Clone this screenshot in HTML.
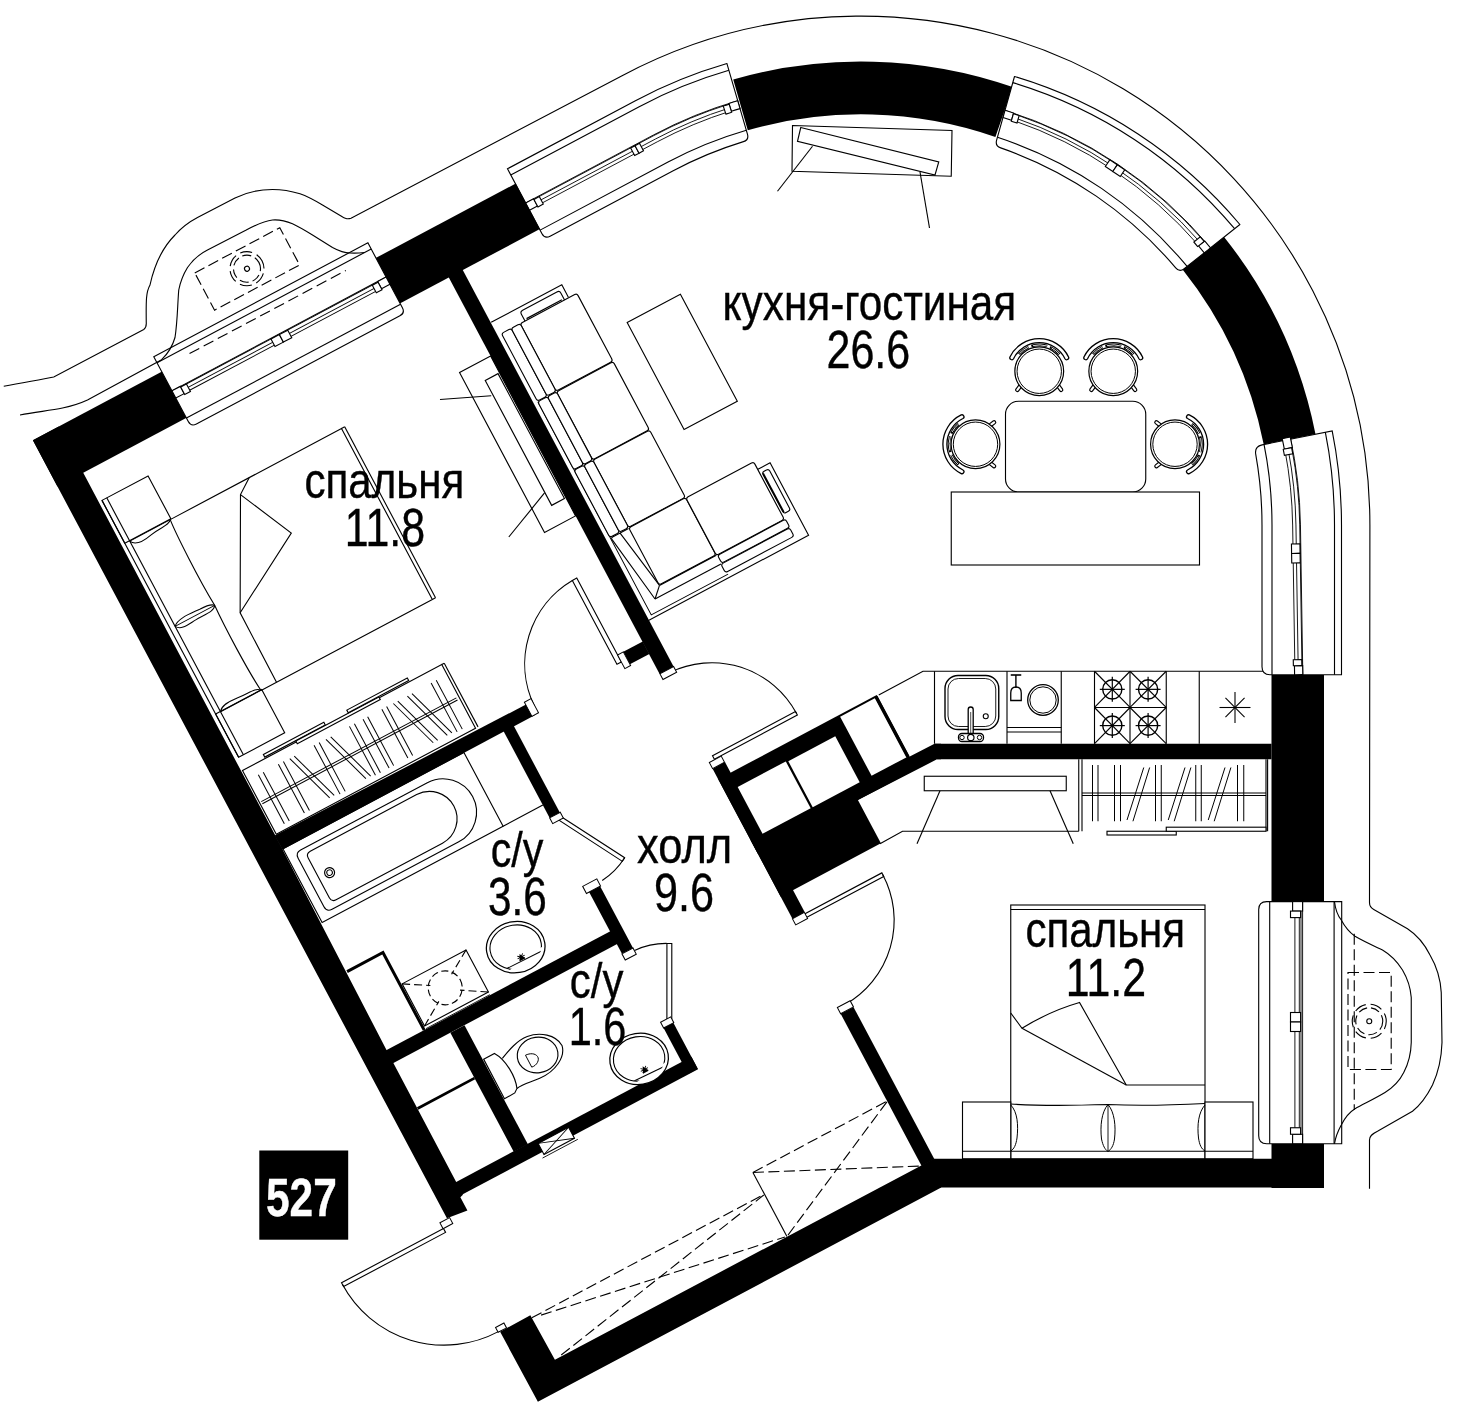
<!DOCTYPE html>
<html><head><meta charset="utf-8"><title>plan</title>
<style>html,body{margin:0;padding:0;background:#fff}svg{display:block}text{font-family:"Liberation Sans",sans-serif}</style>
</head><body>
<svg width="1460" height="1414" viewBox="0 0 1460 1414">
<rect x="0" y="0" width="1460" height="1414" fill="#fff"/>
<path d="M3.75,386.25 C25,382 40,380 53.75,377 L143.75,329.5 C146,328 146.5,326 146.25,322.5 C146,300 146,292 150,285 C155,262 164,246 175,235 C182,227 189,222 197.5,217.5 L235,198 C247,192 259,189.5 272.5,189.5 C282,189.5 291,191 300,193.75 C308,196.5 315,200.5 322.5,205 L341,216 C345,218.5 347,219.5 351,218.3 L622.09,75.67 A508.9,508.9 0 0 1 1369.90,525.00 L1369.5,902.5 C1369.5,906 1371,908 1373.75,909.5 L1407.5,928.75 C1417,935 1424.5,944 1430,955 C1437,967 1440.5,979 1441.25,992.5 L1442,1042.5 C1441.5,1058 1438.5,1072 1432.5,1085 C1427.5,1095 1421,1104.5 1412.5,1111.25 L1377.5,1131.25 C1372,1134 1369.5,1136 1369.5,1140 L1369.5,1188.75" fill="none" stroke="#000" stroke-width="1.12" />
<path d="M733.24,79.46 A463.50,463.50 0 0 1 1012.67,87.02 L995.39,136.91 A410.70,410.70 0 0 0 747.80,130.21 Z" fill="#000" stroke="none" stroke-width="1.12" />
<path d="M1223.49,236.15 A463.50,463.50 0 0 1 1315.51,434.18 L1263.74,444.52 A410.70,410.70 0 0 0 1182.19,269.05 Z" fill="#000" stroke="none" stroke-width="1.12" />
<rect x="1271.50" y="675.00" width="52.50" height="226.50" rx="0.00" fill="#000" stroke="none" stroke-width="1.12" />
<rect x="1271.50" y="1143.75" width="52.50" height="44.25" rx="0.00" fill="#000" stroke="none" stroke-width="1.12" />
<rect x="933.75" y="1158.75" width="390.25" height="28.75" rx="0.00" fill="#000" stroke="none" stroke-width="1.12" />
<polygon points="934.50,743.75 1271.50,743.75 1271.50,759.25 937.00,759.25" fill="#000" stroke="none" stroke-width="1.12" />
<line x1="1302.60" y1="675.00" x2="1302.60" y2="740.00" stroke="#000" stroke-width="0.6" stroke="#fff"/>
<path d="M1014.50,76.50 A470.0,470.0 0 0 1 1239.90,224.50 L1184.20,268.77 Q1179.50,272.50 1175.70,267.85 A402.0,402.0 0 0 0 1000.70,147.87 Q995.00,146.00 996.62,140.22 Z" fill="#fff" stroke="#000" stroke-width="1.12" stroke-linejoin="round"/>
<path d="M997.45,137.26 A410.6,410.6 0 0 1 1187.10,266.46" fill="none" stroke="#000" stroke-width="1.12" />
<path d="M1012.78,82.62 A464.0,464.0 0 0 1 1234.58,228.73" fill="none" stroke="#000" stroke-width="1.12" />
<path d="M1012.63,120.18 A430.2,430.2 0 0 1 1198.17,244.89" fill="none" stroke="#000" stroke-width="0.9" />
<path d="M1013.44,117.28 A433.0,433.0 0 0 1 1200.67,242.90" fill="none" stroke="#000" stroke-width="0.9" />
<path d="M1014.37,113.95 A436.3,436.3 0 0 1 1203.55,240.62" fill="none" stroke="#000" stroke-width="0.9" />
<path d="M1005.01,110.33 A436.9,436.9 0 0 1 1210.50,247.87" fill="none" stroke="#000" stroke-width="0.9" />
<polygon points="1003.00,117.50 1011.57,120.22 1013.59,113.04 1005.01,110.33" fill="#fff" stroke="#000" stroke-width="1.12" />
<polygon points="1011.30,121.20 1017.02,123.01 1019.12,115.54 1013.39,113.74" fill="#fff" stroke="#000" stroke-width="1.12" />
<polygon points="1204.27,252.82 1198.51,245.90 1204.72,240.96 1210.50,247.87" fill="#fff" stroke="#000" stroke-width="1.12" />
<polygon points="1197.67,246.57 1193.83,241.96 1200.27,236.84 1204.12,241.44" fill="#fff" stroke="#000" stroke-width="1.12" />
<polygon points="1105.32,166.52 1112.79,171.54 1117.26,164.88 1109.80,159.86" fill="#fff" stroke="#000" stroke-width="1.12" />
<polygon points="1112.79,171.54 1120.26,176.56 1124.73,169.91 1117.26,164.88" fill="#fff" stroke="#000" stroke-width="1.12" />
<path d="M507.48,168.77 L635.42,100.74 A480.50,480.50 0 0 1 726.94,63.58 L747.45,134.16 Q749.12,139.92 743.42,141.62 A401.00,401.00 0 0 0 672.74,170.94 L550.10,236.15 Q544.80,238.96 541.99,233.67 Z" fill="#fff" stroke="#000" stroke-width="1.12" />
<path d="M540.11,230.13 L668.05,162.11 A411.00,411.00 0 0 1 746.33,130.32" fill="none" stroke="#000" stroke-width="1.12" />
<path d="M510.77,174.95 L638.71,106.92 A473.50,473.50 0 0 1 728.90,70.30" fill="none" stroke="#000" stroke-width="1.12" />
<path d="M538.14,205.13 L657.25,141.80 A434.00,434.00 0 0 1 730.49,111.09" fill="none" stroke="#000" stroke-width="0.9" />
<path d="M536.59,202.22 L655.70,138.89 A437.30,437.30 0 0 1 729.50,107.94" fill="none" stroke="#000" stroke-width="0.9" />
<path d="M534.81,198.86 L653.92,135.53 A441.10,441.10 0 0 1 728.36,104.32" fill="none" stroke="#000" stroke-width="0.9" />
<path d="M525.65,202.94 L653.59,134.91 A441.80,441.80 0 0 1 737.74,100.74" fill="none" stroke="#000" stroke-width="0.9" />
<polygon points="529.50,210.18 537.44,205.96 533.59,198.71 525.65,202.94" fill="#fff" stroke="#000" stroke-width="1.12" />
<polygon points="537.96,206.93 543.26,204.11 539.27,196.60 533.97,199.42" fill="#fff" stroke="#000" stroke-width="1.12" />
<path d="M728.88,103.42 A441.80,441.80 0 0 1 737.74,100.74 L740.03,108.62 A433.60,433.60 0 0 0 731.34,111.24 Z" fill="#fff" stroke="#000" stroke-width="1.12" />
<path d="M723.26,106.06 A441.00,441.00 0 0 1 729.12,104.18 L731.66,112.29 A432.50,432.50 0 0 0 725.92,114.14 Z" fill="#fff" stroke="#000" stroke-width="1.12" />
<polygon points="634.64,155.52 639.06,153.17 635.07,145.67 630.65,148.01" fill="#fff" stroke="#000" stroke-width="1.12" />
<polygon points="639.06,153.17 643.47,150.82 639.48,143.32 635.07,145.67" fill="#fff" stroke="#000" stroke-width="1.12" />
<path d="M1332.19,430.85 A480.50,480.50 0 0 1 1341.50,525.00 L1341.50,674.75 L1270.00,674.75 Q1262.00,674.75 1262.00,666.75 L1262.00,525.00 A401.00,401.00 0 0 0 1255.79,454.68 Q1254.23,446.43 1262.07,444.86 Z" fill="#fff" stroke="#000" stroke-width="1.12" />
<path d="M1264.03,444.47 A411.00,411.00 0 0 1 1272.00,525.00 L1272.00,674.75" fill="none" stroke="#000" stroke-width="1.12" />
<path d="M1325.32,432.22 A473.50,473.50 0 0 1 1334.50,525.00 L1334.50,674.75" fill="none" stroke="#000" stroke-width="1.12" />
<g transform="rotate(-0.9 1296 674.75)">
<path d="M1288.41,449.64 A434.00,434.00 0 0 1 1295.00,525.00 L1295.00,664.75" fill="none" stroke="#000" stroke-width="0.9" />
<path d="M1291.66,449.06 A437.30,437.30 0 0 1 1298.30,525.00 L1298.30,664.75" fill="none" stroke="#000" stroke-width="0.9" />
<path d="M1295.40,448.40 A441.10,441.10 0 0 1 1302.10,525.00 L1302.10,664.75" fill="none" stroke="#000" stroke-width="0.9" />
<path d="M1293.78,436.16 A441.80,441.80 0 0 1 1302.80,525.00 L1302.80,674.75" fill="none" stroke="#000" stroke-width="0.9" />
<path d="M1293.93,436.92 A441.80,441.80 0 0 1 1295.95,447.52 L1287.88,448.96 A433.60,433.60 0 0 0 1285.90,438.55 Z" fill="#fff" stroke="#000" stroke-width="1.12" />
<path d="M1295.17,447.66 A441.00,441.00 0 0 1 1296.20,453.73 L1287.82,455.11 A432.50,432.50 0 0 0 1286.80,449.15 Z" fill="#fff" stroke="#000" stroke-width="1.12" />
<rect x="1294.60" y="665.75" width="8.20" height="9.00" rx="0.00" fill="#fff" stroke="#000" stroke-width="1.12" />
<rect x="1293.50" y="659.75" width="8.50" height="6.00" rx="0.00" fill="#fff" stroke="#000" stroke-width="1.12" />
<rect x="1293.50" y="544.00" width="8.50" height="9.50" rx="0.00" fill="#fff" stroke="#000" stroke-width="1.12" />
<rect x="1293.50" y="553.50" width="8.50" height="9.50" rx="0.00" fill="#fff" stroke="#000" stroke-width="1.12" />
</g>
<path d="M1266.70,901.60 L1341.70,901.60 L1341.70,1143.75 L1266.70,1143.75 Q1258.70,1143.75 1258.70,1135.75 L1258.70,909.60 Q1258.70,901.60 1266.70,901.60 Z" fill="#fff" stroke="#000" stroke-width="1.12" />
<line x1="1269.70" y1="901.60" x2="1269.70" y2="1143.75" stroke="#000" stroke-width="1.12" />
<line x1="1334.10" y1="901.60" x2="1334.10" y2="1143.75" stroke="#000" stroke-width="1.12" />
<line x1="1294.90" y1="911.60" x2="1294.90" y2="1133.75" stroke="#000" stroke-width="0.9" />
<line x1="1299.30" y1="911.60" x2="1299.30" y2="1133.75" stroke="#000" stroke-width="0.9" />
<line x1="1301.00" y1="911.60" x2="1301.00" y2="1133.75" stroke="#000" stroke-width="0.9" />
<line x1="1302.60" y1="901.60" x2="1302.60" y2="1143.75" stroke="#000" stroke-width="0.9" />
<rect x="1292.60" y="901.60" width="10.00" height="9.50" rx="0.00" fill="#fff" stroke="#000" stroke-width="1.12" />
<rect x="1290.50" y="911.10" width="10.10" height="6.50" rx="0.00" fill="#fff" stroke="#000" stroke-width="1.12" />
<rect x="1292.60" y="1134.25" width="10.00" height="9.50" rx="0.00" fill="#fff" stroke="#000" stroke-width="1.12" />
<rect x="1290.50" y="1127.75" width="10.10" height="6.50" rx="0.00" fill="#fff" stroke="#000" stroke-width="1.12" />
<rect x="1290.50" y="1012.50" width="10.10" height="9.50" rx="0.00" fill="#fff" stroke="#000" stroke-width="1.12" />
<rect x="1290.50" y="1022.00" width="10.10" height="9.50" rx="0.00" fill="#fff" stroke="#000" stroke-width="1.12" />
<path d="M1334.5,901.75 C1335.5,910 1338,916 1341.25,920 C1345,927 1349,932 1355,936.25 C1364,941.5 1373,945.5 1382.5,950 C1391,955 1397.5,962 1402.5,970 C1407.5,978.5 1410.5,987 1411.25,997.5 L1411.25,1042.5 C1411,1053.5 1408.5,1063.5 1403.75,1072.5 C1399.5,1081 1393,1087.5 1385,1092.5 C1375,1098.5 1364.5,1103.5 1355,1108.75 C1349,1112.5 1344.5,1118.5 1341.25,1125 C1338,1131 1335.5,1137 1334.5,1143.75" fill="none" stroke="#000" stroke-width="1.12" />
<rect x="1348.00" y="972.50" width="43.20" height="97.00" rx="0.00" fill="none" stroke="#000" stroke-width="1.12" stroke-dasharray="11 4.5"/>
<line x1="1354.25" y1="933.75" x2="1354.25" y2="1110.00" stroke="#000" stroke-width="1.12" stroke-dasharray="11 4.5"/>
<circle cx="1369.25" cy="1021.25" r="2.50" fill="none" stroke="#000" stroke-width="1.12" />
<circle cx="1369.25" cy="1021.25" r="13.50" fill="none" stroke="#000" stroke-width="1.12" stroke-dasharray="9 4"/>
<circle cx="1369.25" cy="1021.25" r="17.00" fill="none" stroke="#000" stroke-width="1.12" stroke-dasharray="12 5" stroke-dashoffset="4"/>
<rect x="1005.50" y="401.25" width="140.25" height="90.75" rx="13.00" fill="#fff" stroke="#000" stroke-width="1.12" />
<rect x="951.25" y="492.00" width="248.25" height="73.00" rx="0.00" fill="#fff" stroke="#000" stroke-width="1.12" />
<g transform="translate(1039.25,371.25) rotate(0)">
<path d="M-19.3,15.2 L-21.9,18.6" stroke="#000" stroke-width="4.4" stroke-linecap="round" fill="none"/>
<path d="M-19.3,15.2 L-21.9,18.6" stroke="#fff" stroke-width="2.1" stroke-linecap="round" fill="none"/>
<path d="M19.3,15.2 L21.9,18.6" stroke="#000" stroke-width="4.4" stroke-linecap="round" fill="none"/>
<path d="M19.3,15.2 L21.9,18.6" stroke="#fff" stroke-width="2.1" stroke-linecap="round" fill="none"/>
<circle cx="0.00" cy="0.00" r="24.40" fill="#fff" stroke="#000" stroke-width="1.2" />
<circle cx="0.00" cy="0.00" r="22.20" fill="none" stroke="#000" stroke-width="1.0" />
<path d="M-29.30,-14.29 A32.6,32.6 0 0 1 29.30,-14.29 A2,2 0 0 1 25.71,-12.54 A28.6,28.6 0 0 0 -25.71,-12.54 A2,2 0 0 1 -29.30,-14.29 Z" fill="#fff" stroke="#000" stroke-width="1.3"/>
<path d="M-20.22,-16.97 A26.4,26.4 0 0 1 20.22,-16.97" fill="none" stroke="#000" stroke-width="2.6" stroke-dasharray="12 3 16 3 12 100"/>
<path d="M-20.22,-16.97 A26.4,26.4 0 0 1 20.22,-16.97" fill="none" stroke="#fff" stroke-width="0.9" stroke-dasharray="11 5 14 5 11 100" stroke-dashoffset="-0.8"/>
</g>
<g transform="translate(1113.25,371.25) rotate(0)">
<path d="M-19.3,15.2 L-21.9,18.6" stroke="#000" stroke-width="4.4" stroke-linecap="round" fill="none"/>
<path d="M-19.3,15.2 L-21.9,18.6" stroke="#fff" stroke-width="2.1" stroke-linecap="round" fill="none"/>
<path d="M19.3,15.2 L21.9,18.6" stroke="#000" stroke-width="4.4" stroke-linecap="round" fill="none"/>
<path d="M19.3,15.2 L21.9,18.6" stroke="#fff" stroke-width="2.1" stroke-linecap="round" fill="none"/>
<circle cx="0.00" cy="0.00" r="24.40" fill="#fff" stroke="#000" stroke-width="1.2" />
<circle cx="0.00" cy="0.00" r="22.20" fill="none" stroke="#000" stroke-width="1.0" />
<path d="M-29.30,-14.29 A32.6,32.6 0 0 1 29.30,-14.29 A2,2 0 0 1 25.71,-12.54 A28.6,28.6 0 0 0 -25.71,-12.54 A2,2 0 0 1 -29.30,-14.29 Z" fill="#fff" stroke="#000" stroke-width="1.3"/>
<path d="M-20.22,-16.97 A26.4,26.4 0 0 1 20.22,-16.97" fill="none" stroke="#000" stroke-width="2.6" stroke-dasharray="12 3 16 3 12 100"/>
<path d="M-20.22,-16.97 A26.4,26.4 0 0 1 20.22,-16.97" fill="none" stroke="#fff" stroke-width="0.9" stroke-dasharray="11 5 14 5 11 100" stroke-dashoffset="-0.8"/>
</g>
<g transform="translate(975.50,444.25) rotate(-90)">
<path d="M-19.3,15.2 L-21.9,18.6" stroke="#000" stroke-width="4.4" stroke-linecap="round" fill="none"/>
<path d="M-19.3,15.2 L-21.9,18.6" stroke="#fff" stroke-width="2.1" stroke-linecap="round" fill="none"/>
<path d="M19.3,15.2 L21.9,18.6" stroke="#000" stroke-width="4.4" stroke-linecap="round" fill="none"/>
<path d="M19.3,15.2 L21.9,18.6" stroke="#fff" stroke-width="2.1" stroke-linecap="round" fill="none"/>
<circle cx="0.00" cy="0.00" r="24.40" fill="#fff" stroke="#000" stroke-width="1.2" />
<circle cx="0.00" cy="0.00" r="22.20" fill="none" stroke="#000" stroke-width="1.0" />
<path d="M-29.30,-14.29 A32.6,32.6 0 0 1 29.30,-14.29 A2,2 0 0 1 25.71,-12.54 A28.6,28.6 0 0 0 -25.71,-12.54 A2,2 0 0 1 -29.30,-14.29 Z" fill="#fff" stroke="#000" stroke-width="1.3"/>
<path d="M-20.22,-16.97 A26.4,26.4 0 0 1 20.22,-16.97" fill="none" stroke="#000" stroke-width="2.6" stroke-dasharray="12 3 16 3 12 100"/>
<path d="M-20.22,-16.97 A26.4,26.4 0 0 1 20.22,-16.97" fill="none" stroke="#fff" stroke-width="0.9" stroke-dasharray="11 5 14 5 11 100" stroke-dashoffset="-0.8"/>
</g>
<g transform="translate(1175.00,444.25) rotate(90)">
<path d="M-19.3,15.2 L-21.9,18.6" stroke="#000" stroke-width="4.4" stroke-linecap="round" fill="none"/>
<path d="M-19.3,15.2 L-21.9,18.6" stroke="#fff" stroke-width="2.1" stroke-linecap="round" fill="none"/>
<path d="M19.3,15.2 L21.9,18.6" stroke="#000" stroke-width="4.4" stroke-linecap="round" fill="none"/>
<path d="M19.3,15.2 L21.9,18.6" stroke="#fff" stroke-width="2.1" stroke-linecap="round" fill="none"/>
<circle cx="0.00" cy="0.00" r="24.40" fill="#fff" stroke="#000" stroke-width="1.2" />
<circle cx="0.00" cy="0.00" r="22.20" fill="none" stroke="#000" stroke-width="1.0" />
<path d="M-29.30,-14.29 A32.6,32.6 0 0 1 29.30,-14.29 A2,2 0 0 1 25.71,-12.54 A28.6,28.6 0 0 0 -25.71,-12.54 A2,2 0 0 1 -29.30,-14.29 Z" fill="#fff" stroke="#000" stroke-width="1.3"/>
<path d="M-20.22,-16.97 A26.4,26.4 0 0 1 20.22,-16.97" fill="none" stroke="#000" stroke-width="2.6" stroke-dasharray="12 3 16 3 12 100"/>
<path d="M-20.22,-16.97 A26.4,26.4 0 0 1 20.22,-16.97" fill="none" stroke="#fff" stroke-width="0.9" stroke-dasharray="11 5 14 5 11 100" stroke-dashoffset="-0.8"/>
</g>
<polygon points="792.50,125.50 952.00,130.50 951.25,176.25 792.00,171.25" fill="none" stroke="#000" stroke-width="1.12" />
<polygon points="800.75,127.50 938.75,162.00 935.00,175.00 797.50,141.25" fill="#fff" stroke="#000" stroke-width="1.12" />
<line x1="812.50" y1="146.25" x2="777.50" y2="191.25" stroke="#000" stroke-width="1.12" />
<line x1="920.00" y1="172.00" x2="929.50" y2="228.00" stroke="#000" stroke-width="1.12" />
<path d="M878.75,695.00 L923.00,671.25 L1263.00,671.25" fill="none" stroke="#000" stroke-width="1.12" />
<line x1="934.50" y1="671.25" x2="934.50" y2="743.75" stroke="#000" stroke-width="1.12" />
<line x1="1007.00" y1="671.25" x2="1007.00" y2="743.75" stroke="#000" stroke-width="1.12" />
<line x1="1061.25" y1="671.25" x2="1061.25" y2="743.75" stroke="#000" stroke-width="1.12" />
<line x1="1094.50" y1="671.25" x2="1094.50" y2="743.75" stroke="#000" stroke-width="1.12" />
<line x1="1130.00" y1="671.25" x2="1130.00" y2="743.75" stroke="#000" stroke-width="1.12" />
<line x1="1166.25" y1="671.25" x2="1166.25" y2="743.75" stroke="#000" stroke-width="1.12" />
<line x1="1199.25" y1="671.25" x2="1199.25" y2="743.75" stroke="#000" stroke-width="1.12" />
<rect x="945.00" y="675.50" width="53.75" height="54.00" rx="13.00" fill="#fff" stroke="#000" stroke-width="1.4" />
<rect x="948.00" y="678.50" width="47.75" height="48.00" rx="10.50" fill="#fff" stroke="#000" stroke-width="0.9" />
<circle cx="985.75" cy="716.25" r="2.50" fill="none" stroke="#000" stroke-width="1.12" />
<path d="M968.2,737 L968.2,709.5 A2.5,2.5 0 0 1 973.2,709.5 L973.2,737 Z" fill="#fff" stroke="#000" stroke-width="1.3" />
<line x1="970.70" y1="712.00" x2="970.70" y2="735.00" stroke="#000" stroke-width="0.7" />
<rect x="958.50" y="733.50" width="25.00" height="8.00" rx="3.50" fill="#fff" stroke="#000" stroke-width="1.3" />
<circle cx="970.80" cy="737.50" r="3.20" fill="#fff" stroke="#000" stroke-width="1.2" />
<circle cx="962.00" cy="737.50" r="2.20" fill="none" stroke="#000" stroke-width="1" />
<circle cx="979.50" cy="737.50" r="2.20" fill="none" stroke="#000" stroke-width="1" />
<line x1="1010.75" y1="675.00" x2="1021.25" y2="675.00" stroke="#000" stroke-width="1.6" />
<line x1="1015.90" y1="675.00" x2="1015.90" y2="688.00" stroke="#000" stroke-width="1.4" />
<path d="M1010.75,700.5 L1010.75,693 Q1010.75,687 1016,687 Q1021.25,687 1021.25,693 L1021.25,700.5 Z" fill="none" stroke="#000" stroke-width="1.3" />
<circle cx="1043.00" cy="700.00" r="15.30" fill="none" stroke="#000" stroke-width="1.3" />
<circle cx="1043.00" cy="700.00" r="13.20" fill="none" stroke="#000" stroke-width="1" />
<line x1="1007.00" y1="727.50" x2="1061.25" y2="727.50" stroke="#000" stroke-width="1.12" />
<line x1="1007.00" y1="732.00" x2="1061.25" y2="732.00" stroke="#000" stroke-width="1.12" />
<line x1="1094.50" y1="707.50" x2="1166.25" y2="707.50" stroke="#000" stroke-width="1.12" />
<line x1="1094.50" y1="671.25" x2="1130.10" y2="707.45" stroke="#000" stroke-width="1.12" />
<line x1="1094.50" y1="707.45" x2="1130.10" y2="671.25" stroke="#000" stroke-width="1.12" />
<circle cx="1112.30" cy="689.35" r="9.60" fill="none" stroke="#000" stroke-width="1.4" />
<line x1="1099.80" y1="689.35" x2="1124.80" y2="689.35" stroke="#000" stroke-width="1.2" />
<line x1="1112.30" y1="676.85" x2="1112.30" y2="701.85" stroke="#000" stroke-width="1.2" />
<line x1="1130.00" y1="671.25" x2="1166.20" y2="707.45" stroke="#000" stroke-width="1.12" />
<line x1="1130.00" y1="707.45" x2="1166.20" y2="671.25" stroke="#000" stroke-width="1.12" />
<circle cx="1148.10" cy="689.35" r="9.60" fill="none" stroke="#000" stroke-width="1.4" />
<line x1="1135.60" y1="689.35" x2="1160.60" y2="689.35" stroke="#000" stroke-width="1.2" />
<line x1="1148.10" y1="676.85" x2="1148.10" y2="701.85" stroke="#000" stroke-width="1.2" />
<line x1="1094.50" y1="707.50" x2="1130.10" y2="743.70" stroke="#000" stroke-width="1.12" />
<line x1="1094.50" y1="743.70" x2="1130.10" y2="707.50" stroke="#000" stroke-width="1.12" />
<circle cx="1112.30" cy="725.60" r="9.60" fill="none" stroke="#000" stroke-width="1.4" />
<line x1="1099.80" y1="725.60" x2="1124.80" y2="725.60" stroke="#000" stroke-width="1.2" />
<line x1="1112.30" y1="713.10" x2="1112.30" y2="738.10" stroke="#000" stroke-width="1.2" />
<line x1="1130.00" y1="707.50" x2="1166.20" y2="743.70" stroke="#000" stroke-width="1.12" />
<line x1="1130.00" y1="743.70" x2="1166.20" y2="707.50" stroke="#000" stroke-width="1.12" />
<circle cx="1148.10" cy="725.60" r="9.60" fill="none" stroke="#000" stroke-width="1.4" />
<line x1="1135.60" y1="725.60" x2="1160.60" y2="725.60" stroke="#000" stroke-width="1.2" />
<line x1="1148.10" y1="713.10" x2="1148.10" y2="738.10" stroke="#000" stroke-width="1.2" />
<line x1="1219.50" y1="707.50" x2="1250.50" y2="707.50" stroke="#000" stroke-width="1.1" />
<line x1="1225.45" y1="697.95" x2="1244.55" y2="717.05" stroke="#000" stroke-width="1.1" />
<line x1="1235.00" y1="692.00" x2="1235.00" y2="723.00" stroke="#000" stroke-width="1.1" />
<line x1="1244.55" y1="697.95" x2="1225.45" y2="717.05" stroke="#000" stroke-width="1.1" />
<rect x="924.25" y="776.25" width="142.00" height="14.50" rx="0.00" fill="#fff" stroke="#000" stroke-width="1.12" />
<line x1="940.00" y1="790.75" x2="917.00" y2="843.75" stroke="#000" stroke-width="1.12" />
<line x1="1050.00" y1="790.75" x2="1073.25" y2="843.75" stroke="#000" stroke-width="1.12" />
<path d="M1078.75,831.25 L1078.75,759.25" fill="none" stroke="#000" stroke-width="1.12" />
<line x1="1082.00" y1="759.25" x2="1082.00" y2="831.25" stroke="#000" stroke-width="1.12" />
<line x1="1266.00" y1="759.25" x2="1266.00" y2="831.25" stroke="#000" stroke-width="1.12" />
<line x1="1267.60" y1="759.25" x2="1267.60" y2="831.25" stroke="#000" stroke-width="1.12" />
<line x1="1082.00" y1="793.00" x2="1266.00" y2="793.00" stroke="#000" stroke-width="1.12" />
<line x1="1082.00" y1="795.50" x2="1266.00" y2="795.50" stroke="#000" stroke-width="1.12" />
<line x1="1092.50" y1="765.00" x2="1092.50" y2="821.25" stroke="#000" stroke-width="1" />
<line x1="1098.00" y1="765.00" x2="1098.00" y2="821.25" stroke="#000" stroke-width="1" />
<line x1="1114.50" y1="765.00" x2="1114.50" y2="821.25" stroke="#000" stroke-width="1" />
<line x1="1120.50" y1="765.00" x2="1120.50" y2="821.25" stroke="#000" stroke-width="1" />
<line x1="1155.50" y1="765.00" x2="1155.50" y2="821.25" stroke="#000" stroke-width="1" />
<line x1="1161.25" y1="765.00" x2="1161.25" y2="821.25" stroke="#000" stroke-width="1" />
<line x1="1195.75" y1="765.00" x2="1195.75" y2="821.25" stroke="#000" stroke-width="1" />
<line x1="1201.25" y1="765.00" x2="1201.25" y2="821.25" stroke="#000" stroke-width="1" />
<line x1="1237.50" y1="765.00" x2="1237.50" y2="821.25" stroke="#000" stroke-width="1" />
<line x1="1243.75" y1="765.00" x2="1243.75" y2="821.25" stroke="#000" stroke-width="1" />
<line x1="1143.75" y1="767.50" x2="1127.00" y2="820.00" stroke="#000" stroke-width="1" />
<line x1="1149.65" y1="767.50" x2="1132.95" y2="821.25" stroke="#000" stroke-width="1" />
<line x1="1185.00" y1="767.50" x2="1168.25" y2="820.00" stroke="#000" stroke-width="1" />
<line x1="1190.90" y1="767.50" x2="1174.20" y2="821.25" stroke="#000" stroke-width="1" />
<line x1="1225.00" y1="767.50" x2="1208.25" y2="820.00" stroke="#000" stroke-width="1" />
<line x1="1230.90" y1="767.50" x2="1214.20" y2="821.25" stroke="#000" stroke-width="1" />
<rect x="1107.00" y="831.25" width="69.25" height="3.75" rx="0.00" fill="#fff" stroke="#000" stroke-width="1.12" />
<rect x="1166.25" y="827.20" width="99.75" height="4.05" rx="0.00" fill="#fff" stroke="#000" stroke-width="1.12" />
<rect x="1010.75" y="905.00" width="194.25" height="253.75" rx="0.00" fill="#fff" stroke="#000" stroke-width="1.12" />
<line x1="1010.75" y1="909.50" x2="1205.00" y2="909.50" stroke="#000" stroke-width="1.12" />
<rect x="962.50" y="1102.00" width="48.25" height="56.75" rx="0.00" fill="#fff" stroke="#000" stroke-width="1.12" />
<rect x="1205.00" y="1102.00" width="48.00" height="56.75" rx="0.00" fill="#fff" stroke="#000" stroke-width="1.12" />
<line x1="962.50" y1="1151.25" x2="1253.00" y2="1151.25" stroke="#000" stroke-width="1.12" />
<path d="M1010.75,1104 C1040,1106 1075,1105.5 1108,1104.5 C1140,1106 1175,1105 1205,1103.5" fill="none" stroke="#000" stroke-width="1.12" />
<path d="M1010.75,1105 C1017.5,1112 1018.5,1125 1017,1138 C1016,1145 1014,1149 1010.75,1151" fill="none" stroke="#000" stroke-width="1" />
<path d="M1205,1105 C1198.5,1112 1197,1125 1198.5,1138 C1199.5,1145 1201.5,1149 1205,1151" fill="none" stroke="#000" stroke-width="1" />
<path d="M1108,1104.5 C1101.5,1112 1100,1126 1101.5,1139 C1103,1146 1105,1149.5 1108,1151.5 C1111,1149.5 1113.5,1146 1114.5,1139 C1116,1126 1114.5,1112 1108,1104.5 Z" fill="none" stroke="#000" stroke-width="1" />
<line x1="1108.00" y1="1105.00" x2="1108.00" y2="1151.00" stroke="#000" stroke-width="0.9" />
<path d="M1010.75,1013 L1022,1028.25 Q1050,1011 1079.5,1002.5 L1126.25,1085 L1205,1085" fill="none" stroke="#000" stroke-width="1.12" />
<line x1="1022.00" y1="1028.25" x2="1126.25" y2="1085.00" stroke="#000" stroke-width="1.12" />
<g transform="translate(32.90,440.30) rotate(-28.00)">
<polygon points="0.00,0.00 29.30,0.00 28.50,462.00 26.00,704.00 25.50,868.00 22.10,869.00 22.10,884.00 0.30,881.30" fill="#000" stroke="none" stroke-width="1.12" />
<rect x="0.00" y="0.00" width="146.30" height="52.30" rx="0.00" fill="#000" stroke="none" stroke-width="1.12" />
<rect x="388.20" y="0.00" width="158.60" height="51.50" rx="0.00" fill="#000" stroke="none" stroke-width="1.12" />
<rect x="443.70" y="50.00" width="15.80" height="450.50" rx="0.00" fill="#000" stroke="none" stroke-width="1.12" />
<rect x="422.00" y="464.00" width="22.00" height="14.00" rx="0.00" fill="#000" stroke="none" stroke-width="1.12" />
<polygon points="28.00,462.50 314.00,464.80 314.00,478.30 28.00,478.60" fill="#000" stroke="none" stroke-width="1.12" />
<rect x="279.00" y="477.00" width="11.50" height="99.00" rx="0.00" fill="#000" stroke="none" stroke-width="1.12" />
<rect x="279.00" y="660.00" width="12.50" height="70.00" rx="0.00" fill="#000" stroke="none" stroke-width="1.12" />
<rect x="25.00" y="704.50" width="256.00" height="14.50" rx="0.00" fill="#000" stroke="none" stroke-width="1.12" />
<rect x="90.50" y="719.00" width="16.00" height="135.00" rx="0.00" fill="#000" stroke="none" stroke-width="1.12" />
<rect x="24.00" y="853.50" width="268.00" height="14.00" rx="0.00" fill="#000" stroke="none" stroke-width="1.12" />
<rect x="281.00" y="815.00" width="11.00" height="52.00" rx="0.00" fill="#000" stroke="none" stroke-width="1.12" />
<path d="M28.00,616.60 L68.60,616.60 L68.60,704.50" fill="none" stroke="#000" stroke-width="3.0" />
<line x1="26.00" y1="770.50" x2="90.50" y2="770.50" stroke="#000" stroke-width="2.8" />
<rect x="446.00" y="609.00" width="14.00" height="170.00" rx="0.00" fill="#000" stroke="none" stroke-width="1.12" />
<rect x="446.00" y="621.00" width="179.50" height="84.00" rx="0.00" fill="#000" stroke="none" stroke-width="1.12" />
<rect x="446.00" y="690.00" width="113.50" height="64.00" rx="0.00" fill="#000" stroke="none" stroke-width="1.12" />
<polygon points="559.00,690.00 653.60,691.20 659.30,694.30 652.10,707.90 648.50,706.10 559.00,705.00" fill="#000" stroke="none" stroke-width="1.12" />
<rect x="459.50" y="637.00" width="54.50" height="53.00" rx="0.00" fill="#fff" stroke="#000" stroke-width="0" />
<rect x="516.30" y="638.00" width="53.20" height="52.00" rx="0.00" fill="#fff" stroke="#000" stroke-width="0" />
<rect x="583.00" y="623.00" width="39.80" height="67.00" rx="0.00" fill="#fff" stroke="#000" stroke-width="0" />
<rect x="444.00" y="885.50" width="14.50" height="172.50" rx="0.00" fill="#000" stroke="none" stroke-width="1.12" />
<polygon points="-6.00,1006.50 28.50,1006.00 29.30,1056.80 442.40,1057.40 458.10,1057.30 451.20,1086.20 -5.50,1086.00" fill="#000" stroke="none" stroke-width="1.12" />
<path d="M146.00,-17.10 L388.50,-17.10 L388.50,56.40 Q388.50,62.40 382.50,62.40 L152.00,62.40 Q146.00,62.40 146.00,56.40 Z" fill="#fff" stroke="#000" stroke-width="1.12" />
<line x1="146.00" y1="52.40" x2="388.50" y2="52.40" stroke="#000" stroke-width="1.12" />
<line x1="146.00" y1="-10.10" x2="388.50" y2="-10.10" stroke="#000" stroke-width="1.12" />
<line x1="156.00" y1="29.40" x2="378.50" y2="29.40" stroke="#000" stroke-width="0.9" />
<line x1="156.00" y1="26.10" x2="378.50" y2="26.10" stroke="#000" stroke-width="0.9" />
<line x1="156.00" y1="22.30" x2="378.50" y2="22.30" stroke="#000" stroke-width="0.9" />
<line x1="146.00" y1="21.60" x2="388.50" y2="21.60" stroke="#000" stroke-width="0.9" />
<rect x="146.00" y="21.60" width="9.50" height="8.20" rx="0.00" fill="#fff" stroke="#000" stroke-width="1.12" />
<rect x="155.50" y="22.40" width="6.50" height="8.50" rx="0.00" fill="#fff" stroke="#000" stroke-width="1.12" />
<rect x="379.00" y="21.60" width="9.50" height="8.20" rx="0.00" fill="#fff" stroke="#000" stroke-width="1.12" />
<rect x="372.50" y="22.40" width="6.50" height="8.50" rx="0.00" fill="#fff" stroke="#000" stroke-width="1.12" />
<rect x="257.75" y="22.40" width="9.50" height="8.50" rx="0.00" fill="#fff" stroke="#000" stroke-width="1.12" />
<rect x="267.25" y="22.40" width="9.50" height="8.50" rx="0.00" fill="#fff" stroke="#000" stroke-width="1.12" />
<line x1="179.00" y1="-3.00" x2="356.00" y2="-3.00" stroke="#000" stroke-width="1.12" stroke-dasharray="11 5"/>
<rect x="221.50" y="-71.80" width="96.30" height="42.20" rx="0.00" fill="none" stroke="#000" stroke-width="1.12" stroke-dasharray="11 4.5"/>
<circle cx="269.60" cy="-51.00" r="2.50" fill="none" stroke="#000" stroke-width="1.12" />
<circle cx="269.60" cy="-51.00" r="13.50" fill="none" stroke="#000" stroke-width="1.12" stroke-dasharray="9 4"/>
<circle cx="269.60" cy="-51.00" r="17.00" fill="none" stroke="#000" stroke-width="1.12" stroke-dasharray="12 5" stroke-dashoffset="4"/>
<rect x="32.80" y="85.50" width="52.20" height="48.50" rx="0.00" fill="#fff" stroke="#000" stroke-width="1.12" />
<rect x="32.80" y="327.50" width="52.20" height="49.00" rx="0.00" fill="#fff" stroke="#000" stroke-width="1.12" />
<line x1="38.20" y1="85.50" x2="38.20" y2="376.50" stroke="#000" stroke-width="1.12" />
<line x1="32.80" y1="85.50" x2="32.80" y2="376.50" stroke="#000" stroke-width="1.12" />
<path d="M84.00,134.50 L278.00,134.50 L278.00,328.00 L84.00,328.00" fill="none" stroke="#000" stroke-width="1.12" />
<line x1="281.60" y1="134.50" x2="281.60" y2="328.00" stroke="#000" stroke-width="1.12" />
<line x1="278.00" y1="134.50" x2="281.60" y2="134.50" stroke="#000" stroke-width="1.12" />
<line x1="278.00" y1="328.00" x2="281.60" y2="328.00" stroke="#000" stroke-width="1.12" />
<path d="M84,134.5 C82.3,150 81.2,200 83,231 C81.6,255 81.6,305 84,328" fill="none" stroke="#000" stroke-width="1.12" />
<line x1="38.20" y1="134.50" x2="84.00" y2="134.50" stroke="#000" stroke-width="1.12" />
<line x1="38.20" y1="231.00" x2="83.00" y2="231.00" stroke="#000" stroke-width="0.9" />
<line x1="38.20" y1="327.70" x2="84.00" y2="327.70" stroke="#000" stroke-width="1.12" />
<path d="M38.2,134.5 C41,141.5 50,141.2 60,139 C72,136.5 80,139.5 84,134.5" fill="none" stroke="#000" stroke-width="1.05" />
<path d="M38.2,231 C44,225 58,227 68,227.5 C76,227.5 81,228.5 83,231 C80,236.5 70,234.5 60,235 C50,235.5 42,237.5 38.2,231" fill="none" stroke="#000" stroke-width="1.05" />
<path d="M38.2,327.7 C42,322.5 50,322.5 60,323.5 C72,325 80,322.5 84,327.7" fill="none" stroke="#000" stroke-width="1.05" />
<path d="M173.40,134.50 L157.80,145.40 L102.00,249.60 L101.50,328.00" fill="none" stroke="#000" stroke-width="1.12" />
<path d="M157.80,145.40 L184.60,203.20 L102.00,249.60" fill="none" stroke="#000" stroke-width="1.12" />
<rect x="408.50" y="140.50" width="35.20" height="181.00" rx="0.00" fill="none" stroke="#000" stroke-width="1.12" />
<rect x="427.50" y="159.50" width="14.50" height="141.50" rx="0.00" fill="#fff" stroke="#000" stroke-width="1.12" />
<line x1="378.60" y1="155.10" x2="425.60" y2="175.80" stroke="#000" stroke-width="1.12" />
<line x1="374.80" y1="308.80" x2="427.00" y2="286.70" stroke="#000" stroke-width="1.12" />
<rect x="30.00" y="390.00" width="225.70" height="72.00" rx="0.00" fill="none" stroke="#000" stroke-width="1.12" />
<line x1="258.50" y1="390.00" x2="258.50" y2="462.00" stroke="#000" stroke-width="1.12" />
<line x1="255.70" y1="390.00" x2="258.50" y2="390.00" stroke="#000" stroke-width="1.12" />
<line x1="32.00" y1="426.20" x2="253.00" y2="426.20" stroke="#000" stroke-width="1" />
<line x1="32.00" y1="428.60" x2="253.00" y2="428.60" stroke="#000" stroke-width="1" />
<rect x="56.00" y="385.60" width="68.50" height="3.00" rx="0.00" fill="#fff" stroke="#000" stroke-width="1.12" />
<rect x="91.00" y="389.00" width="94.00" height="3.00" rx="0.00" fill="#fff" stroke="#000" stroke-width="1.12" />
<rect x="150.50" y="385.60" width="68.50" height="3.00" rx="0.00" fill="#fff" stroke="#000" stroke-width="1.12" />
<line x1="42.00" y1="401.20" x2="42.00" y2="456.60" stroke="#000" stroke-width="1" />
<line x1="47.60" y1="401.20" x2="47.60" y2="456.60" stroke="#000" stroke-width="1" />
<line x1="64.70" y1="401.20" x2="64.70" y2="456.60" stroke="#000" stroke-width="1" />
<line x1="70.40" y1="401.20" x2="70.40" y2="456.60" stroke="#000" stroke-width="1" />
<line x1="105.10" y1="401.20" x2="105.10" y2="456.60" stroke="#000" stroke-width="1" />
<line x1="110.90" y1="401.20" x2="110.90" y2="456.60" stroke="#000" stroke-width="1" />
<line x1="145.20" y1="401.20" x2="145.20" y2="456.60" stroke="#000" stroke-width="1" />
<line x1="150.80" y1="401.20" x2="150.80" y2="456.60" stroke="#000" stroke-width="1" />
<line x1="160.60" y1="401.20" x2="160.60" y2="456.60" stroke="#000" stroke-width="1" />
<line x1="165.80" y1="401.20" x2="165.80" y2="456.60" stroke="#000" stroke-width="1" />
<line x1="181.90" y1="401.20" x2="181.90" y2="456.60" stroke="#000" stroke-width="1" />
<line x1="187.30" y1="401.20" x2="187.30" y2="456.60" stroke="#000" stroke-width="1" />
<line x1="237.70" y1="401.20" x2="237.70" y2="456.60" stroke="#000" stroke-width="1" />
<line x1="243.50" y1="401.20" x2="243.50" y2="456.60" stroke="#000" stroke-width="1" />
<line x1="77.40" y1="401.60" x2="94.20" y2="455.00" stroke="#000" stroke-width="1" />
<line x1="82.50" y1="401.60" x2="99.30" y2="455.00" stroke="#000" stroke-width="1" />
<line x1="118.40" y1="401.60" x2="135.20" y2="455.00" stroke="#000" stroke-width="1" />
<line x1="123.80" y1="401.60" x2="140.60" y2="455.00" stroke="#000" stroke-width="1" />
<line x1="194.70" y1="401.60" x2="211.50" y2="455.00" stroke="#000" stroke-width="1" />
<line x1="199.70" y1="401.60" x2="216.50" y2="455.00" stroke="#000" stroke-width="1" />
<line x1="210.60" y1="401.60" x2="227.40" y2="455.00" stroke="#000" stroke-width="1" />
<line x1="215.80" y1="401.60" x2="232.60" y2="455.00" stroke="#000" stroke-width="1" />
<rect x="29.00" y="478.00" width="205.00" height="83.50" rx="0.00" fill="none" stroke="#000" stroke-width="1.12" />
<line x1="234.00" y1="561.50" x2="279.00" y2="561.50" stroke="#000" stroke-width="1.12" />
<path d="M44,487.5 L187.5,487.5 A33.5,33.5 0 0 1 187.5,554.5 L44,554.5 Q38,554.5 38,548.5 L38,493.5 Q38,487.5 44,487.5 Z" fill="none" stroke="#000" stroke-width="1.12" />
<path d="M52,493 L172.5,493 A27.5,27.5 0 0 1 172.5,548 L52,548 Q47,548 47,543 L47,498 Q47,493 52,493 Z" fill="none" stroke="#000" stroke-width="1.12" />
<circle cx="59.00" cy="521.00" r="5.00" fill="none" stroke="#000" stroke-width="1.2" />
<circle cx="59.00" cy="521.00" r="2.80" fill="none" stroke="#000" stroke-width="1" />
<rect x="70.80" y="653.30" width="72.40" height="47.70" rx="0.00" fill="none" stroke="#000" stroke-width="1.12" />
<line x1="70.80" y1="704.00" x2="143.20" y2="704.00" stroke="#000" stroke-width="0.8" />
<circle cx="107.00" cy="677.00" r="17.00" fill="none" stroke="#000" stroke-width="1.12" stroke-dasharray="7 3.5"/>
<line x1="70.80" y1="653.30" x2="95.00" y2="668.00" stroke="#000" stroke-width="1.12" stroke-dasharray="8 4"/>
<line x1="143.20" y1="653.30" x2="119.00" y2="668.00" stroke="#000" stroke-width="1.12" stroke-dasharray="8 4"/>
<line x1="70.80" y1="701.00" x2="95.00" y2="686.00" stroke="#000" stroke-width="1.12" stroke-dasharray="8 4"/>
<line x1="143.20" y1="701.00" x2="119.00" y2="686.00" stroke="#000" stroke-width="1.12" stroke-dasharray="8 4"/>
<rect x="116.00" y="858.00" width="34.50" height="12.50" rx="0.00" fill="#fff" stroke="#000" stroke-width="1.12" />
<line x1="116.00" y1="858.00" x2="150.50" y2="870.50" stroke="#000" stroke-width="0.9" />
<line x1="116.00" y1="870.50" x2="150.50" y2="858.00" stroke="#000" stroke-width="0.9" />
<line x1="113.00" y1="873.00" x2="153.00" y2="873.00" stroke="#000" stroke-width="0.8" />
<rect x="410.50" y="377.00" width="5.00" height="95.00" rx="0.00" fill="#fff" stroke="#000" stroke-width="1.12" />
<path d="M410.5,377 A97,97 0 0 0 318,470" fill="none" stroke="#000" stroke-width="1.12" />
<rect x="415.50" y="464.00" width="6.50" height="15.50" rx="0.00" fill="#fff" stroke="#000" stroke-width="1" />
<rect x="311.00" y="462.00" width="7.50" height="16.00" rx="0.00" fill="#fff" stroke="#000" stroke-width="1" />
<polygon points="289.60,580.00 326.50,646.40 322.80,648.50 285.90,582.00" fill="#fff" stroke="#000" stroke-width="1.12" />
<path d="M326.5,646.4 A76,76 0 0 1 296,656" fill="none" stroke="#000" stroke-width="1.12" />
<rect x="279.00" y="576.00" width="12.00" height="6.50" rx="0.00" fill="#fff" stroke="#000" stroke-width="1" />
<rect x="276.00" y="652.00" width="16.00" height="8.00" rx="0.00" fill="#fff" stroke="#000" stroke-width="1" />
<polygon points="323.60,741.90 327.90,744.20 292.40,810.90 288.10,808.60" fill="#fff" stroke="#000" stroke-width="1.12" />
<path d="M323.60,741.90 A75,75 0 0 0 291.70,732.90" fill="none" stroke="#000" stroke-width="1.12" />
<rect x="279.00" y="730.00" width="12.50" height="7.00" rx="0.00" fill="#fff" stroke="#000" stroke-width="1" />
<rect x="281.00" y="808.50" width="11.50" height="6.50" rx="0.00" fill="#fff" stroke="#000" stroke-width="1" />
<rect x="452.00" y="597.50" width="94.00" height="4.00" rx="0.00" fill="#fff" stroke="#000" stroke-width="1.12" />
<path d="M546,599.5 A96,96 0 0 0 453,504" fill="none" stroke="#000" stroke-width="1.12" />
<rect x="446.00" y="602.00" width="13.50" height="7.00" rx="0.00" fill="#fff" stroke="#000" stroke-width="1" />
<rect x="444.00" y="500.50" width="15.50" height="6.50" rx="0.00" fill="#fff" stroke="#000" stroke-width="1" />
<rect x="452.00" y="780.50" width="94.50" height="4.00" rx="0.00" fill="#fff" stroke="#000" stroke-width="1.12" />
<path d="M546.5,782.5 A97,97 0 0 1 452,879.5" fill="none" stroke="#000" stroke-width="1.12" />
<rect x="446.00" y="779.00" width="13.50" height="7.00" rx="0.00" fill="#fff" stroke="#000" stroke-width="1" />
<rect x="444.00" y="878.50" width="14.50" height="7.00" rx="0.00" fill="#fff" stroke="#000" stroke-width="1" />
<rect x="-123.00" y="888.70" width="115.50" height="4.40" rx="0.00" fill="#fff" stroke="#000" stroke-width="1.12" />
<path d="M-123,890.5 A115.5,115.5 0 0 0 -7.5,1005.5" fill="none" stroke="#000" stroke-width="1.12" />
<rect x="-8.00" y="882.00" width="11.00" height="6.70" rx="0.00" fill="#fff" stroke="#000" stroke-width="1" />
<rect x="-8.00" y="1000.50" width="9.50" height="5.50" rx="0.00" fill="#fff" stroke="#000" stroke-width="1" />
<path d="M460.00,111.00 L540.00,111.00 L540.00,125.00" fill="none" stroke="#000" stroke-width="1.12" />
<path d="M626.50,366.00 L640.30,366.00 L640.30,448.00 L459.50,448.00" fill="none" stroke="#000" stroke-width="1.12" />
<path d="M464.00,203.00 L464.00,444.50 L551.00,444.50" fill="none" stroke="#000" stroke-width="1.0" />
<rect x="490.50" y="115.00" width="44.80" height="18.00" rx="3.00" fill="#fff" stroke="#000" stroke-width="1.12" />
<line x1="493.00" y1="124.30" x2="533.00" y2="124.30" stroke="#000" stroke-width="1.2" />
<rect x="485.00" y="125.70" width="64.30" height="76.60" rx="2.50" fill="#fff" stroke="#000" stroke-width="1.12" />
<rect x="485.00" y="203.00" width="64.30" height="77.00" rx="2.50" fill="#fff" stroke="#000" stroke-width="1.12" />
<rect x="485.00" y="280.50" width="64.30" height="76.10" rx="2.50" fill="#fff" stroke="#000" stroke-width="1.12" />
<rect x="485.00" y="357.00" width="64.30" height="64.80" rx="2.50" fill="#fff" stroke="#000" stroke-width="1.12" />
<rect x="463.80" y="125.70" width="11.00" height="76.60" rx="2.50" fill="#fff" stroke="#000" stroke-width="1.12" />
<rect x="474.80" y="125.70" width="10.20" height="76.60" rx="2.50" fill="#fff" stroke="#000" stroke-width="1.12" />
<rect x="463.80" y="203.00" width="11.00" height="77.00" rx="2.50" fill="#fff" stroke="#000" stroke-width="1.12" />
<rect x="474.80" y="203.00" width="10.20" height="77.00" rx="2.50" fill="#fff" stroke="#000" stroke-width="1.12" />
<rect x="463.80" y="280.50" width="11.00" height="76.10" rx="2.50" fill="#fff" stroke="#000" stroke-width="1.12" />
<rect x="474.80" y="280.50" width="10.20" height="76.10" rx="2.50" fill="#fff" stroke="#000" stroke-width="1.12" />
<path d="M466.5,357.5 L484.5,357.5 M464.7,359 Q464.7,357.5 466.5,357.5 M464.7,359 L474.8,432.2 M474.9,358 L485.1,422.3" fill="none" stroke="#000" stroke-width="1.12" />
<path d="M474.80,432.20 L485.10,422.30" fill="none" stroke="#000" stroke-width="1.12" />
<path d="M474.80,432.20 L549.50,432.20" fill="none" stroke="#000" stroke-width="1.12" />
<path d="M485.10,422.30 L549.50,422.30" fill="none" stroke="#000" stroke-width="1.12" />
<rect x="549.50" y="357.50" width="76.80" height="65.00" rx="2.50" fill="#fff" stroke="#000" stroke-width="1.12" />
<rect x="550.50" y="423.00" width="77.00" height="9.00" rx="2.50" fill="#fff" stroke="#000" stroke-width="1.12" />
<rect x="549.30" y="432.50" width="77.70" height="9.50" rx="2.50" fill="#fff" stroke="#000" stroke-width="1.12" />
<rect x="628.60" y="370.60" width="7.60" height="46.80" rx="2.50" fill="#fff" stroke="#000" stroke-width="1.12" />
<line x1="629.30" y1="372.00" x2="629.30" y2="416.00" stroke="#000" stroke-width="1.6" />
<rect x="580.00" y="175.00" width="60.30" height="121.20" rx="0.00" fill="none" stroke="#000" stroke-width="1.12" />
<path d="M558.50,754.00 L584.30,753.40 L739.90,836.20" fill="none" stroke="#000" stroke-width="1.12" />
<line x1="624.00" y1="622.00" x2="624.00" y2="690.50" stroke="#000" stroke-width="3.5" />
<line x1="292.00" y1="984.50" x2="292.00" y2="1057.00" stroke="#000" stroke-width="1.12" />
<line x1="292.00" y1="984.50" x2="443.00" y2="984.50" stroke="#000" stroke-width="1.12" stroke-dasharray="11 4.5"/>
<line x1="292.00" y1="984.50" x2="442.00" y2="1057.00" stroke="#000" stroke-width="1.12" stroke-dasharray="11 4.5"/>
<line x1="443.50" y1="985.00" x2="292.00" y2="1057.00" stroke="#000" stroke-width="1.12" stroke-dasharray="11 4.5"/>
<line x1="28.50" y1="1009.00" x2="291.00" y2="1009.00" stroke="#000" stroke-width="1.12" stroke-dasharray="11 4.5"/>
<line x1="38.00" y1="1011.00" x2="290.00" y2="1056.50" stroke="#000" stroke-width="1.12" stroke-dasharray="11 4.5"/>
<line x1="37.00" y1="1055.70" x2="291.00" y2="1009.50" stroke="#000" stroke-width="1.12" stroke-dasharray="11 4.5"/>
</g>
<clipPath id="sk1"><polygon points="417.47,1013.55 627.33,907.95 582.38,818.62 372.52,924.22"/></clipPath>
<ellipse cx="515.70" cy="947.20" rx="29.4" ry="25.6" fill="#fff" stroke="#000" stroke-width="1.25" transform="rotate(-9 515.70 947.20)"/>
<ellipse cx="515.70" cy="947.20" rx="25.8" ry="22.2" fill="none" stroke="#000" stroke-width="1.1" transform="rotate(-9 515.70 947.20)" clip-path="url(#sk1)"/>
<clipPath id="sk1e"><ellipse cx="515.70" cy="947.20" rx="25.8" ry="22.2" transform="rotate(-9 515.70 947.20)"/></clipPath>
<line x1="417.47" y1="1013.55" x2="627.33" y2="907.95" stroke="#000" stroke-width="1.1" clip-path="url(#sk1e)"/>
<g transform="translate(521.60,957.90) rotate(-28)"><path d="M0,-4.5 L3.2,2.2 L-3.2,2.2 Z" fill="#000"/><path d="M-4,-1 L4,-1 M-3,-3.5 L3,1.5 M3,-3.5 L-3,1.5" stroke="#000" stroke-width="0.9"/></g>
<clipPath id="sk2"><polygon points="541.35,1125.78 753.55,1023.32 710.07,933.27 497.87,1035.73"/></clipPath>
<ellipse cx="639.10" cy="1058.80" rx="29.4" ry="25.6" fill="#fff" stroke="#000" stroke-width="1.25" transform="rotate(-9 639.10 1058.80)"/>
<ellipse cx="639.10" cy="1058.80" rx="25.8" ry="22.2" fill="none" stroke="#000" stroke-width="1.1" transform="rotate(-9 639.10 1058.80)" clip-path="url(#sk2)"/>
<clipPath id="sk2e"><ellipse cx="639.10" cy="1058.80" rx="25.8" ry="22.2" transform="rotate(-9 639.10 1058.80)"/></clipPath>
<line x1="541.35" y1="1125.78" x2="753.55" y2="1023.32" stroke="#000" stroke-width="1.1" clip-path="url(#sk2e)"/>
<g transform="translate(644.80,1070.30) rotate(-28)"><path d="M0,-4.5 L3.2,2.2 L-3.2,2.2 Z" fill="#000"/><path d="M-4,-1 L4,-1 M-3,-3.5 L3,1.5 M3,-3.5 L-3,1.5" stroke="#000" stroke-width="0.9"/></g>
<path d="M502.33,1058.41 C508.57,1050.76 516.58,1040.61 527.27,1036.51 C539.73,1031.70 555.76,1034.73 561.99,1045.41 C565.56,1056.99 555.76,1071.24 539.73,1078.36 C530.83,1082.28 522.81,1083.35 516.94,1088.51 C516.94,1088.51 516.94,1088.51 516.94,1088.51" fill="#fff" stroke="#000" stroke-width="1.12" />
<path d="M483.63,1059.13 L494.50,1053.43 C505.89,1059.66 515.69,1076.58 516.94,1088.51 L514.80,1092.97 L504.47,1098.84 Z" fill="#fff" stroke="#000" stroke-width="1.12" />
<ellipse cx="537.60" cy="1055.03" rx="20.4" ry="17.8" fill="none" stroke="#000" stroke-width="1.12" transform="rotate(-8 537.60 1055.03)"/>
<path d="M525.49,1055.21 L531.72,1067.14 C537.06,1065.54 539.73,1059.66 537.60,1056.63 C535.28,1053.07 529.94,1053.07 525.49,1055.21 Z" fill="none" stroke="#000" stroke-width="1" />
<path d="M20,415 C36,412 50,410.5 62.5,408 C72,406 80,403.5 87.5,400 L161.6,359.7 C167,354.5 172,348 175,337.5 C177.5,322 177.5,305 178.75,290 C180.5,281 183.5,274 187.5,267.5 C193,259.5 199.5,254 207.5,250 L246.25,230 C254.5,225.5 263,221 272.5,220 C279.5,219.5 286,221 292.5,223.75 C299.5,227 306,231 312.5,235 L332.5,247.5 C338,250.5 343.5,253 350,253 C355,253.3 360,253 364.5,252.5" fill="none" stroke="#000" stroke-width="1.12" />
<rect x="259.30" y="1150.50" width="88.90" height="89.20" rx="0.00" fill="#000" stroke="none" stroke-width="1.12" />
<g opacity="0.999">
<text transform="translate(722.59,320.00) scale(0.8378,1)" font-size="50.5" font-weight="normal" fill="#000" stroke="#000" stroke-width="0.4">кухня-гостиная</text>
<text transform="translate(826.47,367.85) scale(0.8112,1)" font-size="53" font-weight="normal" fill="#000" stroke="#000" stroke-width="0.4">26.6</text>
<text transform="translate(304.43,497.90) scale(0.8339,1)" font-size="50.5" font-weight="normal" fill="#000" stroke="#000" stroke-width="0.4">спальня</text>
<text transform="translate(344.77,546.00) scale(0.8086,1)" font-size="53" font-weight="normal" fill="#000" stroke="#000" stroke-width="0.4">11.8</text>
<text transform="translate(1025.43,946.90) scale(0.8333,1)" font-size="50.5" font-weight="normal" fill="#000" stroke="#000" stroke-width="0.4">спальня</text>
<text transform="translate(1065.77,996.00) scale(0.8086,1)" font-size="53" font-weight="normal" fill="#000" stroke="#000" stroke-width="0.4">11.2</text>
<text transform="translate(637.04,862.95) scale(0.8604,1)" font-size="50.5" font-weight="normal" fill="#000" stroke="#000" stroke-width="0.4">холл</text>
<text transform="translate(653.96,910.80) scale(0.8147,1)" font-size="53" font-weight="normal" fill="#000" stroke="#000" stroke-width="0.4">9.6</text>
<text transform="translate(490.77,866.50) scale(0.8161,1)" font-size="50.5" font-weight="normal" fill="#000" stroke="#000" stroke-width="0.4">с/у</text>
<text transform="translate(487.90,914.80) scale(0.7986,1)" font-size="53" font-weight="normal" fill="#000" stroke="#000" stroke-width="0.4">3.6</text>
<text transform="translate(569.84,997.50) scale(0.8306,1)" font-size="50.5" font-weight="normal" fill="#000" stroke="#000" stroke-width="0.4">с/у</text>
<text transform="translate(568.67,1045.00) scale(0.7836,1)" font-size="53" font-weight="normal" fill="#000" stroke="#000" stroke-width="0.4">1.6</text>
<text transform="translate(265.90,1216.00) scale(0.8012,1)" font-size="53" font-weight="bold" fill="#fff" stroke="#fff" stroke-width="0.4">527</text>
</g>
</svg>
</body></html>
